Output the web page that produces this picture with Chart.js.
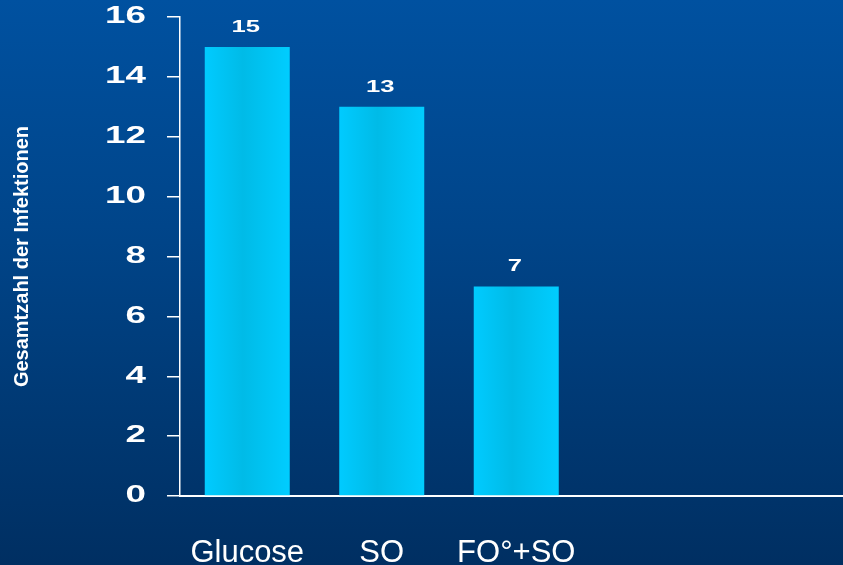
<!DOCTYPE html>
<html>
<head>
<meta charset="utf-8">
<script src="https://cdn.jsdelivr.net/npm/chart.js@4"></script>
<style>
  html, body {
    margin: 0;
    padding: 0;
    width: 843px;
    height: 565px;
    overflow: hidden;
    background: linear-gradient(to bottom, #0051a0 0%, #00458a 40%, #003872 75%, #002f62 100%);
  }
  canvas { display: block; }
</style>
</head>
<body>
<canvas id="chart" width="860" height="565"></canvas>
<script>
// Infection counts per nutrition group
const categories = ['Glucose', 'SO', 'FO°+SO', '', ''];
const infections = [15, 13, 7, null, null];
const axisTitle = 'Gesamtzahl der Infektionen';
const yMin = 0;
const yMax = 16;
const yStep = 2;

const TICK_STRETCH = 1.6;   // wide numerals on the value axis
const VALUE_STRETCH = 1.6;  // wide numerals above the bars
const FONT = '"Liberation Sans", Arial, sans-serif';

// Horizontal sheen across each bar
function barFill(ctx) {
  const chart = ctx.chart;
  const xs = chart.scales.x;
  if (!xs || !chart.chartArea || ctx.dataIndex === undefined) return '#00c6f6';
  const cx = xs.getPixelForValue(ctx.dataIndex);
  const w = (xs.width / categories.length) * 0.632;
  const g = chart.ctx.createLinearGradient(cx - w / 2, 0, cx + w / 2, 0);
  g.addColorStop(0, '#00cbff');
  g.addColorStop(0.45, '#00bbe7');
  g.addColorStop(1, '#00cdff');
  return g;
}

// Widen the value-axis tick labels around their right edge
const wideTicks = {
  id: 'wideTicks',
  beforeLayout(chart) {
    const s = chart.scales.y;
    if (!s || s._wide) return;
    s._wide = true;
    const base = s.drawLabels;
    s.drawLabels = function (area) {
      const items = this.getLabelItems(area);
      if (!items.length) return base.call(this, area);
      const xr = items[0].options.translation[0];
      const c = this.ctx;
      c.save();
      c.translate(xr, 0);
      c.scale(TICK_STRETCH, 1);
      c.translate(-xr, 0);
      base.call(this, area);
      c.restore();
    };
  }
};

// Value labels above the bars
const barValues = {
  id: 'barValues',
  afterDatasetsDraw(chart) {
    const meta = chart.getDatasetMeta(0);
    const c = chart.ctx;
    c.save();
    c.fillStyle = '#ffffff';
    c.font = 'bold 16px ' + FONT;
    c.textAlign = 'center';
    c.textBaseline = 'middle';
    meta.data.forEach((bar, i) => {
      const v = infections[i];
      if (v === null || v === undefined) return;
      c.save();
      c.translate(bar.x - 1.5, bar.y - 19.5);
      c.scale(VALUE_STRETCH, 1);
      c.fillText(String(v), 0, 0);
      c.restore();
    });
    c.restore();
  }
};

new Chart(document.getElementById('chart'), {
  type: 'bar',
  data: {
    labels: categories,
    datasets: [{
      data: infections,
      backgroundColor: barFill,
      borderWidth: 0,
      barPercentage: 0.632,
      categoryPercentage: 1
    }]
  },
  options: {
    responsive: false,
    animation: false,
    devicePixelRatio: 1,
    layout: { padding: { top: 17, right: 7.5, bottom: 0, left: 0 } },
    plugins: {
      legend: { display: false },
      tooltip: { enabled: false }
    },
    scales: {
      x: {
        offset: true,
        grid: { display: false, drawTicks: false },
        border: { display: true, color: '#ffffff', width: 2 },
        ticks: {
          color: '#ffffff',
          font: { family: FONT, size: 31, weight: 'normal' },
          padding: 39,
          autoSkip: false,
          maxRotation: 0
        },
        afterFit(scale) {
          scale.height = 69;
          scale.paddingLeft = 0;
          scale.paddingRight = 0;
        }
      },
      y: {
        min: yMin,
        max: yMax,
        grid: {
          display: true,
          drawOnChartArea: false,
          drawTicks: true,
          tickLength: 13,
          color: '#ffffff',
          lineWidth: 1.5
        },
        border: { display: true, color: '#ffffff', width: 1.5 },
        ticks: {
          stepSize: yStep,
          color: '#ffffff',
          padding: 21,
          font: { family: FONT, size: 23, weight: 'bold' }
        },
        title: {
          display: true,
          text: axisTitle,
          color: '#ffffff',
          font: { family: FONT, size: 20, weight: 'bold' },
          padding: { top: 10, bottom: 0 }
        },
        afterFit(scale) {
          scale.width = 180;
          scale.paddingTop = 0;
          scale.paddingBottom = 0;
        }
      }
    }
  },
  plugins: [wideTicks, barValues]
});
</script>
</body>
</html>
